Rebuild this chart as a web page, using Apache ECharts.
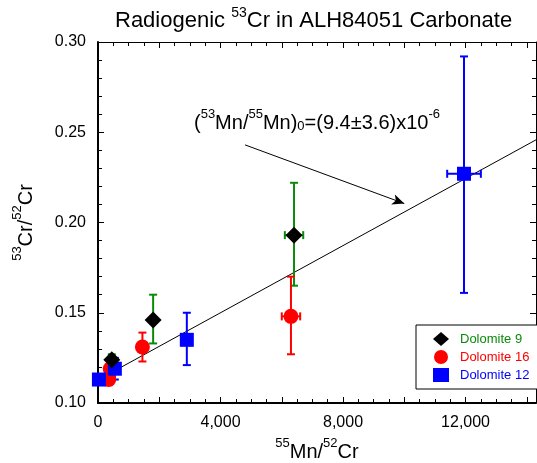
<!DOCTYPE html>
<html>
<head>
<meta charset="utf-8">
<title>Radiogenic 53Cr in ALH84051 Carbonate</title>
<script src="https://cdn.jsdelivr.net/npm/echarts@6.0.0/dist/echarts.min.js"></script>
<style>
    html, body { margin: 0; padding: 0; background: #fff; }
    #main { width: 537px; height: 463px; }
</style>
</head>
<body>
<div id="main"></div>
<script>
// Dolomite 9
var dol9X   = [450, 1800, 6400];
var dol9Y   = [0.124, 0.146, 0.193];
var dol9Lo  = [0.118, 0.133, 0.165];
var dol9Hi  = [0.127, 0.160, 0.222];
var dol9XErr = [0, 0, 300];

// Dolomite 16
var dol16X   = [350, 400, 1450, 6300];
var dol16Y   = [0.113, 0.119, 0.131, 0.148];
var dol16Lo  = [0.110, 0.113, 0.123, 0.127];
var dol16Hi  = [0.117, 0.124, 0.139, 0.170];
var dol16XErr = [0, 0, 0, 300];

// Dolomite 12
var dol12X   = [30, 550, 2900, 11950];
var dol12Y   = [0.113, 0.119, 0.135, 0.227];
var dol12Lo  = [0.111, 0.113, 0.121, 0.161];
var dol12Hi  = [0.115, 0.125, 0.150, 0.292];
var dol12XErr = [0, 0, 0, 550];

// isochron fit and the arrow pointing at it
var fitX = [0, 14300];
var fitY = [0.1128, 0.2458];
var arrowFrom = [4800, 0.243];
var arrowTo = [10000, 0.2105];

var xTickLabels = [0, 4000, 8000, 12000];

var chart = echarts.init(document.getElementById('main'));
var FONT = '"Liberation Sans", Arial, sans-serif';

function zip(xs, ys) {
    return xs.map(function (x, i) { return [x, ys[i]]; });
}

function errorBars(name, xs, ys, lo, hi, xerr, color) {
    return {
        type: 'custom',
        name: name,
        silent: true,
        z: 2,
        encode: { x: 0, y: 1 },
        data: xs.map(function (x, i) { return [x, ys[i], lo[i], hi[i], xerr[i]]; }),
        renderItem: function (params, api) {
            var x = api.value(0), y = api.value(1);
            var top = api.coord([x, api.value(3)]);
            var bot = api.coord([x, api.value(2)]);
            var cap = 4;
            var st = { stroke: color, lineWidth: 2 };
            var kids = [
                { type: 'line', shape: { x1: top[0], y1: top[1], x2: bot[0], y2: bot[1] }, style: st },
                { type: 'line', shape: { x1: top[0] - cap, y1: top[1], x2: top[0] + cap, y2: top[1] }, style: st },
                { type: 'line', shape: { x1: bot[0] - cap, y1: bot[1], x2: bot[0] + cap, y2: bot[1] }, style: st }
            ];
            var xe = api.value(4);
            if (xe > 0) {
                var l = api.coord([x - xe, y]), r = api.coord([x + xe, y]);
                kids.push(
                    { type: 'line', shape: { x1: l[0], y1: l[1], x2: r[0], y2: r[1] }, style: st },
                    { type: 'line', shape: { x1: l[0], y1: l[1] - cap, x2: l[0], y2: l[1] + cap }, style: st },
                    { type: 'line', shape: { x1: r[0], y1: r[1] - cap, x2: r[0], y2: r[1] + cap }, style: st }
                );
            }
            return { type: 'group', children: kids };
        }
    };
}

function richSet(big, small, lh) {
    return {
        n: { fontSize: big, fontFamily: FONT, fontWeight: 'normal', color: '#000', lineHeight: lh, verticalAlign: 'bottom' },
        s: { fontSize: small, fontFamily: FONT, fontWeight: 'normal', color: '#000', lineHeight: small + 1, verticalAlign: 'top' },
        b: { fontSize: small, fontFamily: FONT, fontWeight: 'normal', color: '#000', lineHeight: small + 1, verticalAlign: 'bottom' }
    };
}

var option = {
    animation: false,
    backgroundColor: '#fff',
    title: {
        text: '{n|Radiogenic }{s|53}{n|Cr in ALH84051 Carbonate}',
        left: 115,
        top: 6,
        padding: 0,
        textStyle: { fontWeight: 'normal', rich: richSet(22, 14, 26) }
    },
    legend: {
        orient: 'vertical',
        left: 416,
        top: 325,
        padding: [7, 40, 7, 17],
        itemGap: 4,
        itemWidth: 16,
        itemHeight: 14,
        backgroundColor: '#fff',
        borderColor: '#000',
        borderWidth: 1,
        borderRadius: 0,
        textStyle: { fontSize: 13, fontFamily: FONT, padding: [0, 0, 0, 6] },
        data: [
            { name: 'Dolomite 9', icon: 'diamond', textStyle: { color: '#0a8a0a' } },
            { name: 'Dolomite 16', icon: 'circle', textStyle: { color: '#ff0000' } },
            { name: 'Dolomite 12', icon: 'rect', textStyle: { color: '#0000ff' } }
        ]
    },
    grid: { left: 98, right: 1, top: 42, bottom: 60, outerBoundsMode: 'none' },
    xAxis: [{
        type: 'value',
        min: 0,
        max: 14300,
        interval: 2000,
        name: '{s|55}{n|Mn/}{s|52}{n|Cr}',
        nameLocation: 'middle',
        nameGap: 34,
        nameTextStyle: { rich: richSet(20, 13, 25) },
        axisLine: { show: true, onZero: false, lineStyle: { color: '#000', width: 2 } },
        axisTick: { show: true, inside: true, length: 6, lineStyle: { color: '#000' } },
        minorTick: { show: true, splitNumber: 4, length: 4, lineStyle: { color: '#000' } },
        splitLine: { show: false },
        axisLabel: {
            fontSize: 16, fontFamily: FONT, color: '#000', margin: 12,
            formatter: function (v) {
                return xTickLabels.indexOf(v) >= 0 ? v.toLocaleString('en-US') : '';
            }
        }
    }, {
        type: 'value',
        position: 'top',
        min: 0,
        max: 14300,
        interval: 2000,
        axisLine: { show: true, onZero: false, lineStyle: { color: '#000', width: 1 } },
        axisTick: { show: true, inside: true, length: 6, lineStyle: { color: '#000' } },
        minorTick: { show: true, splitNumber: 4, length: 4, lineStyle: { color: '#000' } },
        splitLine: { show: false },
        axisLabel: { show: false }
    }],
    yAxis: [{
        type: 'value',
        min: 0.10,
        max: 0.30,
        interval: 0.05,
        name: '{s|53}{n|Cr/}{s|52}{n|Cr}',
        nameLocation: 'middle',
        nameRotate: 90,
        nameGap: 62,
        nameTextStyle: { rich: richSet(20, 13, 25) },
        axisLine: { show: true, onZero: false, lineStyle: { color: '#000', width: 2 } },
        axisTick: { show: true, inside: true, length: 6, lineStyle: { color: '#000' } },
        minorTick: { show: true, splitNumber: 5, length: 4, lineStyle: { color: '#000' } },
        splitLine: { show: false },
        axisLabel: {
            fontSize: 16, fontFamily: FONT, color: '#000', margin: 12,
            formatter: function (v) { return v.toFixed(2); }
        }
    }, {
        type: 'value',
        position: 'right',
        min: 0.10,
        max: 0.30,
        interval: 0.05,
        axisLine: { show: true, onZero: false, lineStyle: { color: '#000', width: 1 } },
        axisTick: { show: true, inside: true, length: 6, lineStyle: { color: '#000' } },
        minorTick: { show: true, splitNumber: 5, length: 4, lineStyle: { color: '#000' } },
        splitLine: { show: false },
        axisLabel: { show: false }
    }],
    graphic: [{
        type: 'text',
        left: 194,
        top: 108,
        style: {
            text: '{n|(}{s|53}{n|Mn/}{s|55}{n|Mn)}{b|0}{n|=(9.4±3.6)x10}{s|-6}',
            rich: richSet(20, 13, 25)
        }
    }],
    series: [
        {
            type: 'line',
            name: 'fit',
            data: zip(fitX, fitY),
            showSymbol: false,
            silent: true,
            z: 1,
            lineStyle: { color: '#000', width: 1 },
            markLine: {
                silent: true,
                symbol: ['none', 'arrow'],
                symbolSize: [8, 12],
                label: { show: false },
                lineStyle: { color: '#000', width: 1, type: 'solid' },
                data: [[{ coord: arrowFrom }, { coord: arrowTo }]]
            }
        },
        errorBars('err9', dol9X, dol9Y, dol9Lo, dol9Hi, dol9XErr, '#0a8a0a'),
        errorBars('err16', dol16X, dol16Y, dol16Lo, dol16Hi, dol16XErr, '#ff0000'),
        errorBars('err12', dol12X, dol12Y, dol12Lo, dol12Hi, dol12XErr, '#0000ff'),
        {
            type: 'scatter', name: 'Dolomite 16', z: 3,
            symbol: 'circle', symbolSize: 15,
            itemStyle: { color: '#ff0000', opacity: 1 },
            data: zip(dol16X, dol16Y)
        },
        {
            type: 'scatter', name: 'Dolomite 12', z: 3,
            symbol: 'rect', symbolSize: 14,
            itemStyle: { color: '#0000ff', opacity: 1 },
            data: zip(dol12X, dol12Y)
        },
        {
            type: 'scatter', name: 'Dolomite 9', z: 4,
            symbol: 'diamond', symbolSize: [17, 17],
            itemStyle: { color: '#000', opacity: 1 },
            data: zip(dol9X, dol9Y)
        }
    ]
};

chart.setOption(option);
</script>
</body>
</html>
